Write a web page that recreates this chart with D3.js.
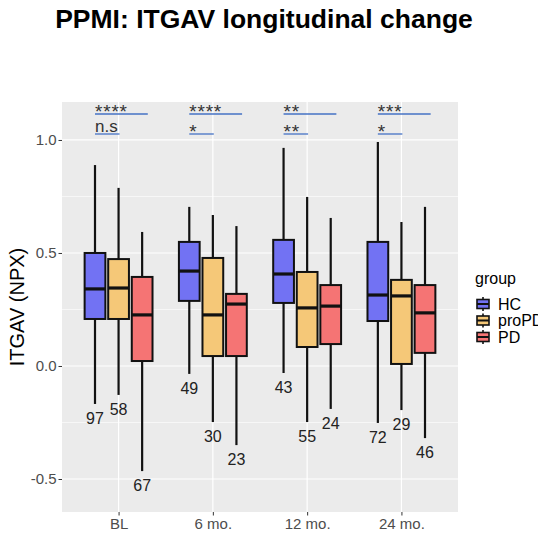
<!DOCTYPE html>
<html>
<head>
<meta charset="utf-8">
<script src="https://cdn.jsdelivr.net/npm/d3@7"></script>
<style>
  body { margin: 0; background: #fff; }
  text { font-family: "Liberation Sans", Arial, sans-serif; }
</style>
</head>
<body>
<div id="chart"></div>
<script>
// Data
const categories = ["BL", "6 mo.", "12 mo.", "24 mo."];
const groups = ["HC", "proPD", "PD"];
const colors = ["#7272F3", "#F5C878", "#F57474"];

// [lower whisker, Q1, median, Q3, upper whisker] per timepoint
const hcStats = [
    [-0.168, 0.208, 0.341, 0.500, 0.889],
    [-0.035, 0.288, 0.420, 0.549, 0.704],
    [-0.031, 0.279, 0.407, 0.558, 0.965],
    [-0.252, 0.199, 0.314, 0.549, 0.991]
];
const proPdStats = [
    [-0.128, 0.208, 0.345, 0.473, 0.788],
    [-0.248, 0.044, 0.226, 0.478, 0.668],
    [-0.248, 0.084, 0.257, 0.416, 0.748],
    [-0.195, 0.009, 0.310, 0.381, 0.637]
];
const pdStats = [
    [-0.465, 0.022, 0.226, 0.394, 0.593],
    [-0.350, 0.044, 0.274, 0.319, 0.619],
    [-0.190, 0.097, 0.265, 0.358, 0.655],
    [-0.319, 0.058, 0.235, 0.358, 0.704]
];

// sample sizes shown under each box
const hcN = [97, 49, 43, 72];
const proPdN = [58, 30, 55, 29];
const pdN = [67, 23, 24, 46];

// significance labels (HC vs PD, HC vs proPD)
const sigHcPd = ["****", "****", "**", "***"];
const sigHcProPd = ["n.s", "*", "**", "*"];

const yTicks = [-0.5, 0.0, 0.5, 1.0];
const yMinor = [-0.25, 0.25, 0.75];

// Dimensions
const width = 538, height = 541;
const panel = { left: 62, right: 458, top: 102, bottom: 512 };

const svg = d3.select("#chart").append("svg")
    .attr("width", width)
    .attr("height", height);

const x = d3.scalePoint()
    .domain(categories)
    .range([panel.left, panel.right])
    .padding(0.6);
const step = x.step();

const y = d3.scaleLinear()
    .domain([-0.646, 1.168])
    .range([panel.bottom, panel.top]);

// Title
svg.append("text")
    .attr("x", 264)
    .attr("y", 28)
    .attr("text-anchor", "middle")
    .style("font-size", "26.5px")
    .style("font-weight", "bold")
    .text("PPMI: ITGAV longitudinal change");

// Panel background
svg.append("rect")
    .attr("x", panel.left)
    .attr("y", panel.top)
    .attr("width", panel.right - panel.left)
    .attr("height", panel.bottom - panel.top)
    .attr("fill", "#EBEBEB");

// Grid lines
svg.append("g").selectAll("line")
    .data(yMinor)
    .enter().append("line")
    .attr("x1", panel.left).attr("x2", panel.right)
    .attr("y1", d => y(d)).attr("y2", d => y(d))
    .attr("stroke", "#fff").attr("stroke-width", 0.6);

svg.append("g").selectAll("line")
    .data(yTicks)
    .enter().append("line")
    .attr("x1", panel.left).attr("x2", panel.right)
    .attr("y1", d => y(d)).attr("y2", d => y(d))
    .attr("stroke", "#fff").attr("stroke-width", 1.2);

svg.append("g").selectAll("line")
    .data(categories)
    .enter().append("line")
    .attr("x1", d => x(d)).attr("x2", d => x(d))
    .attr("y1", panel.top).attr("y2", panel.bottom)
    .attr("stroke", "#fff").attr("stroke-width", 1.2);

// Axes
const yAxis = svg.append("g")
    .attr("transform", `translate(${panel.left},0)`)
    .call(d3.axisLeft(y).tickValues(yTicks).tickFormat(d3.format(".1f")).tickSize(3.5).tickPadding(2));
yAxis.select(".domain").remove();
yAxis.selectAll("line").attr("stroke", "#333");
yAxis.selectAll("text")
    .style("font-size", "15px")
    .attr("fill", "#4D4D4D")
    .text(d => d < 0 ? "-" + Math.abs(d).toFixed(1) : d.toFixed(1));

const xAxis = svg.append("g")
    .attr("transform", `translate(0,${panel.bottom})`)
    .call(d3.axisBottom(x).tickSize(3.5).tickPadding(3));
xAxis.select(".domain").remove();
xAxis.selectAll("line").attr("stroke", "#333");
xAxis.selectAll("text")
    .style("font-size", "15px")
    .attr("fill", "#4D4D4D");

// Y axis title
svg.append("text")
    .attr("transform", `translate(24,${(panel.top + panel.bottom) / 2}) rotate(-90)`)
    .attr("text-anchor", "middle")
    .style("font-size", "20px")
    .text("ITGAV (NPX)");

// Build box data
const allStats = [hcStats, proPdStats, pdStats];
const allN = [hcN, proPdN, pdN];
const boxes = [];
groups.forEach((g, gi) => {
    categories.forEach((c, ci) => {
        const s = allStats[gi][ci];
        boxes.push({
            group: g, gi: gi, cat: c,
            lo: s[0], q1: s[1], med: s[2], q3: s[3], hi: s[4],
            n: allN[gi][ci]
        });
    });
});

const offset = d => x(d.cat) + (d.gi - 1) * step * 0.25;
const boxW = step * 0.22;

const boxG = svg.append("g").selectAll("g")
    .data(boxes)
    .enter().append("g");

// whiskers
boxG.append("line")
    .attr("x1", offset).attr("x2", offset)
    .attr("y1", d => y(d.hi)).attr("y2", d => y(d.q3))
    .attr("stroke", "#111").attr("stroke-width", 2.2);
boxG.append("line")
    .attr("x1", offset).attr("x2", offset)
    .attr("y1", d => y(d.q1)).attr("y2", d => y(d.lo))
    .attr("stroke", "#111").attr("stroke-width", 2.2);

// box
boxG.append("rect")
    .attr("x", d => offset(d) - boxW / 2)
    .attr("width", boxW)
    .attr("y", d => y(d.q3))
    .attr("height", d => y(d.q1) - y(d.q3))
    .attr("fill", d => colors[d.gi])
    .attr("stroke", "#111")
    .attr("stroke-width", 2);

// median
boxG.append("line")
    .attr("x1", d => offset(d) - boxW / 2).attr("x2", d => offset(d) + boxW / 2)
    .attr("y1", d => y(d.med)).attr("y2", d => y(d.med))
    .attr("stroke", "#111").attr("stroke-width", 3.2);

// n labels
boxG.append("text")
    .attr("x", offset)
    .attr("y", d => y(d.lo) + 20)
    .attr("text-anchor", "middle")
    .style("font-size", "16px")
    .attr("fill", "#222")
    .text(d => d.n);

// Significance annotations
const sigRows = [
    { labels: sigHcPd, lineY: 114, end: 0.31 },
    { labels: sigHcProPd, lineY: 134, end: 0.01 }
];
sigRows.forEach(row => {
    const g = svg.append("g");
    g.selectAll("line")
        .data(categories)
        .enter().append("line")
        .attr("x1", d => x(d) - step * 0.25)
        .attr("x2", d => x(d) + step * row.end)
        .attr("y1", row.lineY).attr("y2", row.lineY)
        .attr("stroke", "#4472C4").attr("stroke-width", 1.3);
    g.selectAll("text")
        .data(categories)
        .enter().append("text")
        .attr("x", d => x(d) - step * 0.25)
        .attr("y", (d, i) => row.labels[i].indexOf("*") >= 0 ? row.lineY + 4 : row.lineY - 2)
        .style("font-size", (d, i) => row.labels[i].indexOf("*") >= 0 ? "19px" : "17px")
        .style("letter-spacing", (d, i) => row.labels[i].indexOf("*") >= 0 ? "0.8px" : "0px")
        .attr("fill", "#333")
        .text((d, i) => row.labels[i]);
});

// Legend
const legend = svg.append("g").attr("transform", "translate(475,0)");
legend.append("text")
    .attr("x", 0)
    .attr("y", 284)
    .style("font-size", "16px")
    .text("group");

const keyY = [304, 320.5, 337];
const keys = legend.selectAll(".key")
    .data(groups)
    .enter().append("g")
    .attr("class", "key")
    .attr("transform", (d, i) => `translate(0,${keyY[i]})`);
keys.append("line")
    .attr("x1", 8).attr("x2", 8)
    .attr("y1", -7).attr("y2", 7)
    .attr("stroke", "#111").attr("stroke-width", 1.6);
keys.append("rect")
    .attr("x", 2).attr("y", -4.5)
    .attr("width", 12).attr("height", 9)
    .attr("fill", (d, i) => colors[i])
    .attr("stroke", "#111").attr("stroke-width", 1.6);
keys.append("line")
    .attr("x1", 2).attr("x2", 14)
    .attr("y1", 0).attr("y2", 0)
    .attr("stroke", "#111").attr("stroke-width", 2);
keys.append("text")
    .attr("x", 23)
    .attr("y", 5.8)
    .style("font-size", "16px")
    .text(d => d);
</script>
</body>
</html>
